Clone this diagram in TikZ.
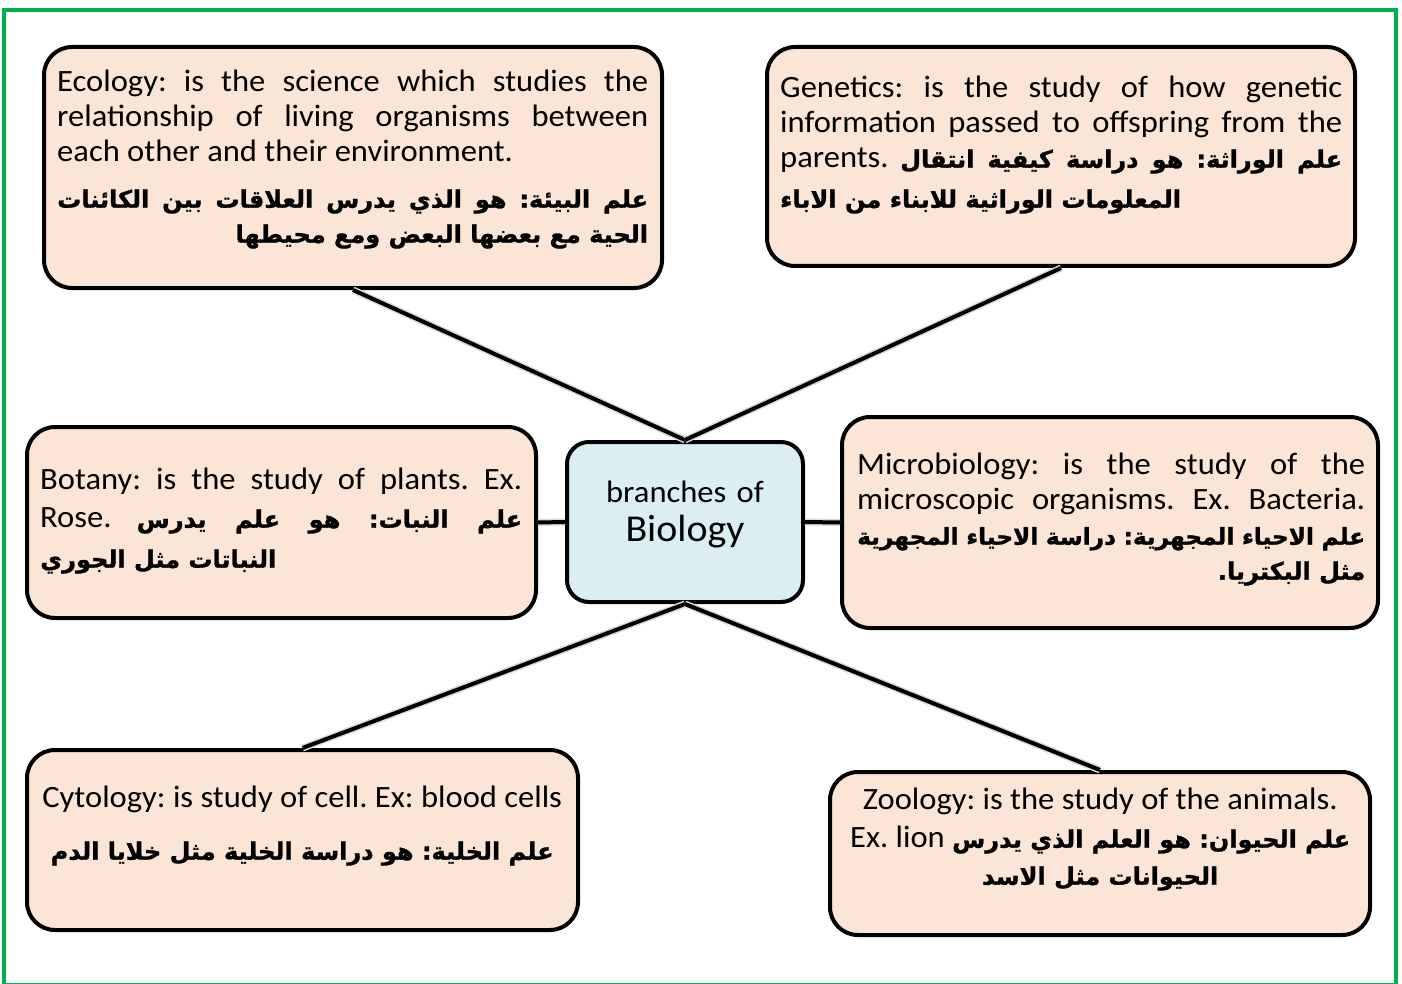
\documentclass[tikz,border=0pt]{standalone}
\usepackage{fontspec}
\usepackage{tikz}
\setmainfont{Carlito}[FakeStretch=1.05]
\newfontfamily\arfont[Script=Arabic, BoldFeatures={FakeBold=1.2}]{DejaVu Sans}
\TeXXeTstate=1
\definecolor{peach}{HTML}{FBE5D6}
\definecolor{paleblue}{HTML}{DAEEF3}
\definecolor{framegreen}{HTML}{00B050}
\newcommand{\artxt}[2][24]{\leavevmode{\arfont\bfseries\fontsize{#1}{35}\selectfont\beginR #2\endR}}
\newcommand{\jline}[1]{\noindent\hbox to \hsize{\spaceskip0pt\xspaceskip0pt\frenchspacing #1}}
\newcommand{\lline}[1]{\noindent\hbox to \hsize{\spaceskip0pt\xspaceskip0pt\frenchspacing #1\hfill}}
\newcommand{\rline}[1]{\noindent\hbox to \hsize{\spaceskip0pt\xspaceskip0pt\frenchspacing\hfill #1}}
\newcommand{\mline}[1]{\noindent\hbox to \hsize{\spaceskip0pt\xspaceskip0pt\frenchspacing\hfill #1\hfill}}

\begin{document}
\begin{tikzpicture}[x=1pt, y=-1pt,
	box/.style={draw, line width=4pt, rounded corners=28pt, fill=peach, inner sep=0pt},
	hubbox/.style={draw, line width=4pt, rounded corners=22pt, fill=paleblue, inner sep=0pt},
	txt/.style={anchor=north west, inner sep=0pt, align=left, font={\parindent0pt\fontsize{31}{35}\selectfont}},
	ctxt/.style={txt, align=center},
	link/.style={line width=4pt, preaction={draw=black!15, line width=7pt}}]
	\useasboundingbox (0,0) rectangle (1402,984);
	\draw[framegreen, line width=4pt] (4,10) rectangle (1396,985);
	
	\node[box, minimum width=618pt, minimum height=241pt] (eco) at (353,167.5) {};
	\node[box, minimum width=588pt, minimum height=219pt] (gen) at (1061,156.5) {};
	\node[box, minimum width=509pt, minimum height=191pt] (bot) at (281.5,522.5) {};
	\node[hubbox, minimum width=236pt, minimum height=160pt] (hub) at (685,522) {};
	\node[box, minimum width=536pt, minimum height=211pt] (mic) at (1110,522.5) {};
	\node[box, minimum width=551pt, minimum height=180pt] (cyt) at (302.5,840) {};
	\node[box, minimum width=540pt, minimum height=163pt] (zoo) at (1100,853.5) {};
	
	\draw[link] (eco.south) -- (hub.north);
	\draw[link] (gen.south) -- (hub.north);
	\draw[link] (bot.east) -- (hub.west);
	\draw[link] (hub.east) -- (mic.west);
	\draw[link] (hub.south) -- (cyt.north);
	\draw[link] (hub.south) -- (zoo.north);
	
	\node[ctxt, anchor=north, text width=240pt, font={\fontsize{31}{39}\selectfont}] (hubtxt) at (685,481) {branches of\\{\fontsize{38}{39}\selectfont Biology}};
	
	\node[txt, text width=591pt] (ecotxt) at (57,70) {\jline{Ecology: is the science which studies the}\\
		\jline{relationship of living organisms between}\\
		\lline{each other and their environment.}\\[11pt]
		\jline{\artxt{علم البيئة: هو الذي يدرس العلاقات بين الكائنات}}\\
		\rline{\artxt{الحية مع بعضها البعض ومع محيطها}}};
	\node[txt, text width=562pt] (gentxt) at (780,76) {\jline{Genetics: is the study of how genetic}\\
		\jline{information passed to offspring from the}\\
		\jline{parents. \artxt{علم الوراثة: هو دراسة كيفية انتقال}}\\[5pt]
		\lline{\artxt{المعلومات الوراثية للابناء من الاباء}}};
	\node[txt, text width=482pt] (bottxt) at (40,468) {\jline{Botany: is the study of plants. Ex.}\\[3pt]
		\jline{Rose. \artxt{علم النبات: هو علم يدرس}}\\[5pt]
		\lline{\artxt{النباتات مثل الجوري}}};
	\node[txt, text width=508pt] (mictxt) at (857,453) {\jline{Microbiology: is the study of the}\\
		\jline{microscopic organisms. Ex. Bacteria.}\\
		\jline{\artxt[23.2]{علم الاحياء المجهرية: دراسة الاحياء المجهرية}}\\
		\rline{\artxt{مثل البكتريا.}}};
	\node[ctxt, text width=530pt] (cyttxt) at (37,786) {\mline{Cytology: is study of cell. Ex: blood cells}\\[17pt]
		\mline{\artxt{علم الخلية: هو دراسة الخلية مثل خلايا الدم}}};
	\node[ctxt, text width=500pt] (zootxt) at (850,788) {\mline{Zoology: is the study of the animals.}\\[3pt]
		\mline{Ex. lion \artxt{علم الحيوان: هو العلم الذي يدرس}}\\[2pt]
		\mline{\artxt{الحيوانات مثل الاسد}}};
\end{tikzpicture}
\end{document}
